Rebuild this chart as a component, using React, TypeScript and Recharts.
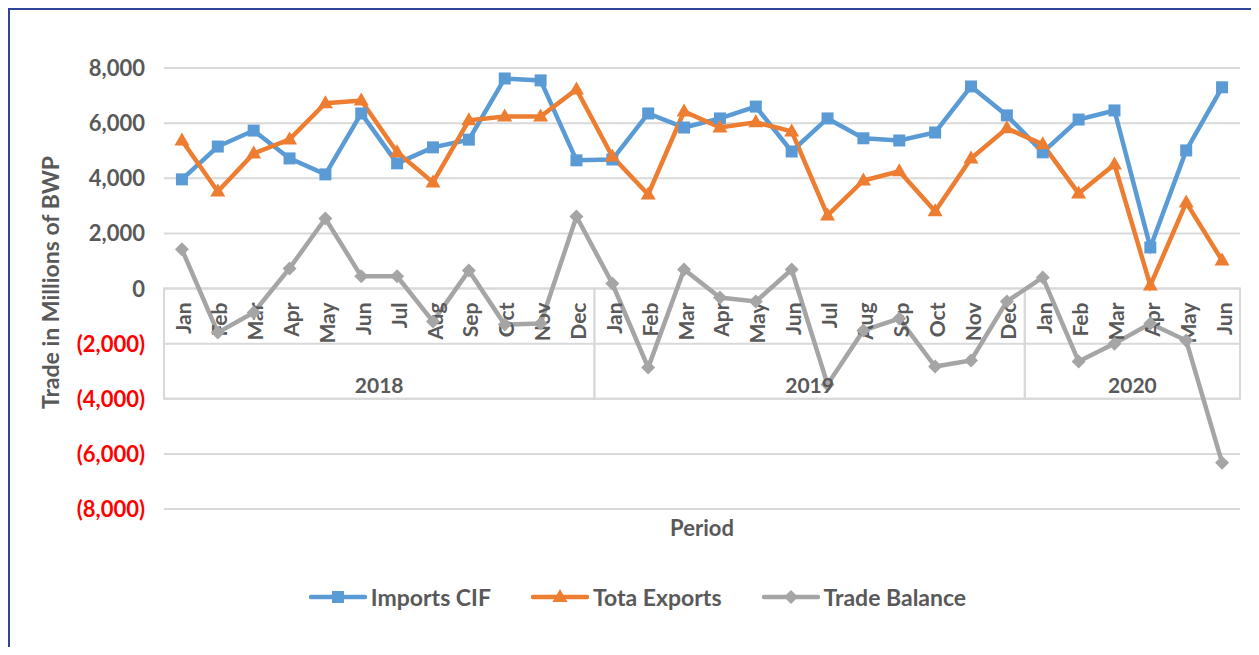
import {
  LineChart, Line, XAxis, YAxis, CartesianGrid, Legend,
  ReferenceArea, ReferenceDot,
} from "recharts";

/* ── Data ──────────────────────────────────────────────────────────────── */
const monthNames = ["Jan", "Feb", "Mar", "Apr", "May", "Jun", "Jul", "Aug", "Sep", "Oct", "Nov", "Dec"];
const yearSpans: [string, number][] = [["2018", 12], ["2019", 12], ["2020", 6]];

const importsCif = [
  3960, 5150, 5730, 4720, 4140, 6350, 4540, 5120, 5400, 7620, 7550, 4650,
  4680, 6350, 5840, 6170, 6600, 4970, 6170, 5450, 5370, 5660, 7330, 6280,
  4940, 6130, 6460, 1490, 5010, 7300,
];
const totaExports = [
  5370, 3520, 4900, 5410, 6720, 6820, 4940, 3850, 6100, 6240, 6240, 7220,
  4790, 3410, 6420, 5840, 6030, 5700, 2650, 3920, 4250, 2800, 4720, 5810,
  5230, 3450, 4500, 110, 3120, 1020,
];
const tradeBalance = [
  1420, -1600, -870, 730, 2540, 440, 440, -1200, 650, -1310, -1270, 2610,
  180, -2870, 690, -330, -470, 690, -3480, -1520, -1090, -2830, -2610, -470,
  400, -2650, -2000, -1270, -1890, -6320,
];
const yTicks = [-8000, -6000, -4000, -2000, 0, 2000, 4000, 6000, 8000];

const periods = yearSpans.flatMap(([year, n]) =>
  monthNames.slice(0, n).map((m) => ({ key: `${year}-${m}`, month: m, year }))
);
const rows = periods.map((p, i) => ({
  period: p.key,
  imports: importsCif[i],
  exports: totaExports[i],
  balance: tradeBalance[i],
}));

/* ── Styles ────────────────────────────────────────────────────────────── */
const FONT = "Lato, 'Open Sans', sans-serif";
const TEXT = "#595959";
const GRID = "#D9D9D9";
const BLUE = "#5B9BD5";
const ORANGE = "#ED7D31";
const GRAY = "#A5A5A5";
const FRAME = "#2E4598";
const W = 1259;
const H = 655;

const fmt = (v: number) =>
  v < 0 ? `(${Math.abs(v).toLocaleString("en-US")})` : v.toLocaleString("en-US");

/* ── Markers ───────────────────────────────────────────────────────────── */
function Marker({ kind, cx, cy, color }: { kind: string; cx: number; cy: number; color: string }) {
  if (kind === "square") return <rect x={cx - 6} y={cy - 6} width={12} height={12} fill={color} />;
  if (kind === "triangle")
    return <polygon points={`${cx},${cy - 8} ${cx + 7.5},${cy + 5} ${cx - 7.5},${cy + 5}`} fill={color} />;
  return <polygon points={`${cx},${cy - 7} ${cx + 7},${cy} ${cx},${cy + 7} ${cx - 7},${cy}`} fill={color} />;
}

const dotFor = (kind: string, color: string) => (p: any) =>
  p.cx == null ? <g key={p.index} /> : <Marker key={p.index} kind={kind} cx={p.cx} cy={p.cy} color={color} />;

const seriesKind: Record<string, string> = { imports: "square", exports: "triangle", balance: "diamond" };

function YTick({ x, y, payload }: any) {
  const v = payload.value as number;
  return (
    <text x={x} y={y} dy={8} textAnchor="end" fill={v < 0 ? "#FF0000" : TEXT}
      fontSize={22} fontWeight={700} fontFamily={FONT}>
      {fmt(v)}
    </text>
  );
}

function MonthLabel({ cx, cy, text }: any) {
  const ty = cy + 14;
  return (
    <text x={cx + 1} y={ty} transform={`rotate(-90 ${cx + 1} ${ty})`} textAnchor="end" dominantBaseline="central"
      fill={TEXT} fontSize={21} fontWeight={700} fontFamily={FONT}>
      {text}
    </text>
  );
}

function LegendContent({ payload }: any) {
  return (
    <div style={{ display: "flex", justifyContent: "center", gap: 40, fontFamily: FONT, fontWeight: 700, fontSize: 23, color: TEXT }}>
      {(payload || []).map((e: any) => (
        <span key={e.value} style={{ display: "flex", alignItems: "center", gap: 4 }}>
          <svg width={58} height={18}>
            <line x1={2} y1={9} x2={56} y2={9} stroke={e.color} strokeWidth={4.5} strokeLinecap="round" />
            <Marker kind={seriesKind[e.dataKey]} cx={29} cy={9} color={e.color} />
          </svg>
          {e.value}
        </span>
      ))}
    </div>
  );
}

// y-axis title, plus the slide frame (left and top edges)
function YTitle({ viewBox }: any) {
  const cx = viewBox.x + 50;
  const cy = viewBox.y + viewBox.height / 2 - 6;
  return (
    <g>
      <path d={`M8.5,${H - 4} V8.5 H${W - 4}`} fill="none" stroke={FRAME} strokeWidth={3} />
      <text x={cx} y={cy} transform={`rotate(-90 ${cx} ${cy})`} textAnchor="middle" dominantBaseline="central"
        fill={TEXT} fontSize={23} fontWeight={700} fontFamily={FONT}>
        Trade in Millions of BWP
      </text>
    </g>
  );
}

export default function App() {
  return (
    <div style={{ position: "relative", width: W, height: H, margin: -8, overflow: "hidden", background: "#fff" }}>
      <LineChart width={W} height={H} data={rows} margin={{ top: 68, right: 19, bottom: 108, left: 0 }}
        style={{ fontFamily: FONT }}>
        <CartesianGrid vertical={false} stroke={GRID} strokeWidth={2} />
        <XAxis dataKey="period" scale="band" height={38} tick={false} axisLine={false} tickLine={false}
          label={{ value: "Period", position: "center", fill: TEXT, fontSize: 22, fontWeight: 700, fontFamily: FONT }} />
        <YAxis width={164} domain={[-8000, 8000]} ticks={yTicks} interval={0} axisLine={false} tickLine={false}
          tickMargin={13} tick={<YTick />} label={(p: any) => <YTitle {...p} />} />
        {yearSpans.map(([year, n]) => (
          <ReferenceArea key={year} x1={`${year}-Jan`} x2={`${year}-${monthNames[n - 1]}`} y1={-4000} y2={0}
            fill="none" stroke={GRID} strokeWidth={2} ifOverflow="visible"
            label={{ value: year, position: "insideBottom", offset: 6, fill: TEXT, fontSize: 21, fontWeight: 700, fontFamily: FONT }} />
        ))}
        {periods.map((p) => (
          <ReferenceDot key={p.key} x={p.key} y={0} r={0} ifOverflow="visible"
            shape={(s: any) => <MonthLabel {...s} text={p.month} />} />
        ))}
        <Legend verticalAlign="middle" align="center" wrapperStyle={{ top: 583, left: 8, width: W }}
          content={<LegendContent />} />
        <Line type="linear" dataKey="imports" name="Imports CIF" stroke={BLUE} strokeWidth={4.5}
          dot={dotFor("square", BLUE)} activeDot={false} isAnimationActive={false} />
        <Line type="linear" dataKey="exports" name="Tota Exports" stroke={ORANGE} strokeWidth={4.5}
          dot={dotFor("triangle", ORANGE)} activeDot={false} isAnimationActive={false} />
        <Line type="linear" dataKey="balance" name="Trade Balance" stroke={GRAY} strokeWidth={4.5}
          dot={dotFor("diamond", GRAY)} activeDot={false} isAnimationActive={false} />
      </LineChart>
    </div>
  );
}
